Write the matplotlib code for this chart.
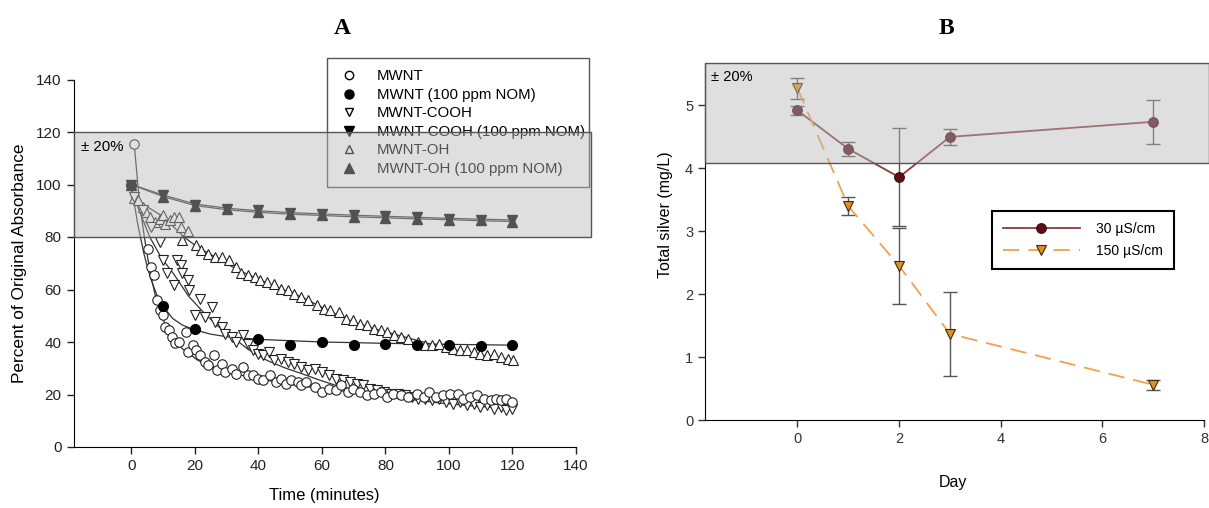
import matplotlib
matplotlib.use("Agg")
import matplotlib.pyplot as plt
from matplotlib.patches import Rectangle
from matplotlib.lines import Line2D

plt.rcParams['font.family'] = ['Liberation Sans', 'DejaVu Sans']

# ---- panel A data (time in minutes, percent of original absorbance) ----
mwnt_t = [0.9, 5.2, 6.3, 7.1, 8.1, 9.0, 10.1, 10.6, 12.0, 12.8, 13.7, 15.0, 17.1, 17.9, 19.3,
          20.4, 21.5, 23.1, 24.2, 26.0, 26.9, 28.5, 29.6, 31.8, 32.9, 35.1, 36.7, 38.3, 39.9,
          41.6, 43.7, 45.4, 47.0, 48.6, 50.2, 52.4, 53.5, 55.1, 57.8, 60.0, 62.2, 64.4, 66.0,
          68.2, 69.8, 71.9, 74.1, 76.3, 78.5, 80.6, 82.3, 85.0, 87.2, 89.9, 92.0, 93.7, 95.8,
          98.0, 100.2, 102.9, 104.5, 106.7, 108.9, 111.0, 113.2, 114.8, 116.5, 118.1, 119.7]
mwnt_v = [115.6, 75.6, 68.6, 65.4, 55.9, 52.1, 50.2, 45.7, 44.5, 41.9, 39.6, 40.0, 43.8, 36.2, 38.7,
          36.8, 34.9, 32.4, 31.1, 34.9, 29.2, 31.8, 28.6, 29.9, 28.0, 30.5, 27.3, 27.3, 26.0,
          25.4, 27.3, 24.8, 26.0, 24.1, 25.4, 24.8, 23.5, 24.8, 22.9, 21.0, 22.2, 21.6, 23.5,
          21.0, 22.2, 21.0, 19.7, 20.3, 21.0, 19.1, 20.3, 19.7, 19.1, 20.3, 19.1, 21.0, 19.1,
          19.7, 20.3, 20.3, 18.4, 19.1, 19.7, 18.4, 17.8, 18.4, 17.8, 18.4, 17.2]
mwnt_fit_t = [0.9, 2.5, 4.1, 6.0, 7.9, 10.0, 12.3, 16.0, 21.0, 26.0, 31.8, 42.7, 53.0, 64.4, 75.0, 86.0, 100.0, 110.0, 119.7]
mwnt_fit_v = [115.6, 94.0, 80.0, 66.0, 55.9, 48.5, 43.0, 37.5, 33.0, 30.3, 28.0, 25.4, 23.3, 21.6, 20.2, 19.1, 17.9, 17.2, 16.6]

nom_t = [0, 10, 20, 40, 50, 60, 70, 80, 90, 100, 110, 120]
nom_v = [100.0, 53.6, 45.1, 41.3, 38.8, 40.0, 38.8, 39.1, 39.0, 38.8, 38.4, 38.8]
nom_fit_t = [0, 2, 4, 6, 8, 10, 13, 16, 20, 25, 30, 40, 60, 80, 100, 120]
nom_fit_v = [100.0, 85.0, 73.5, 64.5, 58.0, 53.6, 49.0, 46.5, 44.6, 43.0, 42.0, 41.0, 40.0, 39.5, 39.1, 38.8]

cooh_t = [0.9, 3.6, 6.3, 9.0, 10.1, 11.2, 13.3, 14.4, 15.5, 16.1, 17.7, 18.2, 20.2, 21.5, 23.1,
          25.3, 26.4, 28.5, 29.6, 31.8, 32.9, 35.1, 36.7, 38.3, 39.9, 41.6, 43.2, 44.8, 47.0,
          49.2, 51.3, 53.5, 55.7, 57.8, 60.0, 62.2, 64.4, 66.5, 68.7, 70.9, 73.0, 75.2, 77.4,
          79.6, 81.7, 83.9, 86.1, 88.3, 90.4, 92.6, 94.7, 96.9, 99.1, 101.3, 103.4, 105.6,
          107.8, 109.9, 112.1, 114.3, 116.5, 118.1, 119.7]
cooh_v = [95.3, 90.2, 83.9, 78.1, 71.1, 66.1, 61.6, 71.4, 69.2, 66.1, 63.5, 59.7, 50.2, 56.5, 49.5,
          53.4, 47.6, 45.7, 43.2, 41.9, 40.0, 42.6, 39.4, 36.8, 35.6, 34.9, 36.2, 33.0, 33.7,
          32.4, 31.8, 30.5, 29.2, 29.9, 28.6, 27.3, 26.0, 25.4, 24.8, 24.1, 23.5, 22.2, 21.6,
          21.0, 20.3, 20.3, 19.7, 19.1, 18.4, 18.4, 17.8, 18.4, 17.2, 16.5, 17.2, 15.9,
          16.5, 15.2, 15.9, 14.6, 15.2, 14.0, 14.6]
cooh_fit_t = [0, 3, 5.8, 9.5, 13.3, 18.0, 23.1, 27.5, 31.8, 37.0, 42.7, 48.0, 53.5, 59.0, 64.4, 70.0, 75.2, 86.1, 96.9, 108.0, 119.7]
cooh_fit_v = [97.8, 88.5, 80.0, 72.0, 66.0, 57.5, 50.8, 45.8, 41.9, 37.0, 33.0, 30.3, 28.0, 25.6, 23.5, 21.8, 20.3, 18.4, 16.8, 15.6, 14.6]

coohnom_t = [0, 10, 20, 30, 40, 50, 60, 70, 80, 90, 100, 110, 120]
coohnom_v = [100.0, 95.9, 92.1, 90.8, 90.2, 89.2, 88.9, 88.3, 87.9, 87.7, 87.0, 86.6, 86.4]
coohnom_fit_v = [100.0, 96.0, 92.6, 91.0, 90.0, 89.3, 88.8, 88.3, 87.9, 87.5, 87.1, 86.8, 86.5]

oh_t = [0.9, 2.0, 3.6, 4.7, 6.0, 7.4, 9.0, 10.1, 10.6, 12.3, 13.3, 15.0, 15.5, 16.1, 17.9, 20.4,
        22.0, 24.2, 26.4, 28.5, 30.7, 32.9, 34.5, 36.7, 38.9, 40.5, 42.7, 44.8, 47.0, 49.2,
        51.3, 53.5, 55.7, 58.4, 60.6, 62.7, 65.4, 67.6, 69.8, 71.9, 74.1, 76.3, 78.5, 80.6,
        82.8, 85.0, 87.2, 90.4, 92.6, 94.7, 96.9, 99.1, 101.3, 103.4, 105.6, 107.8, 109.9,
        112.1, 114.3, 116.5, 118.6, 120.2]
oh_v = [95.0, 94.0, 91.5, 89.6, 87.7, 85.8, 87.0, 88.3, 85.1, 86.4, 87.7, 87.7, 83.9, 78.8, 82.3, 76.9,
        75.0, 73.7, 72.4, 72.4, 71.1, 68.6, 66.1, 65.4, 64.8, 63.5, 62.9, 62.2, 60.3, 59.7,
        58.4, 57.2, 55.9, 54.0, 52.7, 52.1, 51.5, 48.9, 48.3, 47.0, 46.4, 45.1, 44.5, 43.8,
        42.6, 41.9, 41.3, 40.0, 38.8, 38.8, 39.4, 38.1, 37.5, 36.8, 36.8, 36.2, 35.6,
        34.9, 35.6, 34.3, 33.7, 33.0]
oh_fit_t = [0, 5, 10.1, 16.6, 21.0, 26.4, 32.0, 37.2, 45.0, 53.5, 62.0, 69.8, 78.0, 86.1, 94.0, 102.4, 111.0, 120.2]
oh_fit_v = [95.3, 91.5, 87.7, 80.0, 76.0, 72.4, 68.5, 65.4, 61.3, 57.2, 52.0, 47.6, 44.5, 41.9, 39.3, 36.8, 34.8, 33.0]

ohnom_t = [0, 10, 20, 30, 40, 50, 60, 70, 80, 90, 100, 110, 120]
ohnom_v = [100.0, 95.3, 91.7, 90.5, 89.6, 88.7, 88.3, 87.7, 87.3, 87.0, 86.6, 86.4, 85.8]
ohnom_fit_v = [100.0, 95.4, 92.0, 90.4, 89.4, 88.7, 88.2, 87.7, 87.3, 86.9, 86.6, 86.2, 85.9]

# ---- panel B data (day, total silver mg/L) ----
days = [0, 1, 2, 3, 7]
ag30 = [4.92, 4.31, 3.86, 4.50, 4.74]
ag30_err = [0.07, 0.11, 0.78, 0.13, 0.35]
ag150 = [5.27, 3.40, 2.45, 1.37, 0.56]
ag150_err = [0.16, 0.14, 0.60, 0.67, 0.08]

W, H = 1209, 508
fig = plt.figure(figsize=(W / 100, H / 100), dpi=100)

# ================= panel A =================
ax = fig.add_axes([73.5 / W, 1 - 447 / H, (576 - 73.5) / W, (447 - 79.5) / H])
ax.set_xlim(-18.2, 140)
ax.set_ylim(0, 140)
for s in ['top', 'right']:
    ax.spines[s].set_visible(False)
ax.set_xticks(range(0, 141, 20))
ax.set_yticks(range(0, 141, 20))
ax.tick_params(labelsize=11, length=5, width=1, direction='out', colors='#222')

lw_fit = 0.9
ax.plot(mwnt_fit_t, mwnt_fit_v, color='#333', lw=lw_fit, zorder=2)
ax.plot(nom_fit_t, nom_fit_v, color='#333', lw=lw_fit, zorder=2)
ax.plot(cooh_fit_t, cooh_fit_v, color='#333', lw=lw_fit, zorder=2)
ax.plot(oh_fit_t, oh_fit_v, color='#333', lw=lw_fit, zorder=2)
ax.plot(coohnom_t, coohnom_fit_v, color='#333', lw=lw_fit, zorder=2)
ax.plot(ohnom_t, ohnom_fit_v, color='#333', lw=lw_fit, zorder=2)

ms = 6.8
ax.plot(oh_t, oh_v, '^', ms=ms, mfc='white', mec='#222', mew=0.8, ls='none', zorder=3)
ax.plot(cooh_t, cooh_v, 'v', ms=ms, mfc='white', mec='#222', mew=0.8, ls='none', zorder=3)
ax.plot(mwnt_t, mwnt_v, 'o', ms=ms, mfc='white', mec='#222', mew=0.8, ls='none', zorder=3)
ax.plot(nom_t, nom_v, 'o', ms=7, mfc='black', mec='black', ls='none', zorder=4)
ax.plot(coohnom_t, coohnom_v, 'v', ms=7, mfc='black', mec='black', ls='none', zorder=4)
ax.plot(ohnom_t, ohnom_v, '^', ms=7, mfc='black', mec='black', ls='none', zorder=4)

handles = [
    Line2D([], [], marker='o', ls='none', ms=6, mfc='white', mec='black'),
    Line2D([], [], marker='o', ls='none', ms=6.5, mfc='black', mec='black'),
    Line2D([], [], marker='v', ls='none', ms=6, mfc='white', mec='black'),
    Line2D([], [], marker='v', ls='none', ms=6.5, mfc='black', mec='black'),
    Line2D([], [], marker='^', ls='none', ms=6, mfc='white', mec='black'),
    Line2D([], [], marker='^', ls='none', ms=6.5, mfc='black', mec='black'),
]
labels = ['MWNT', 'MWNT (100 ppm NOM)', 'MWNT-COOH', 'MWNT-COOH (100 ppm NOM)',
          'MWNT-OH', 'MWNT-OH (100 ppm NOM)']
leg = ax.legend(handles, labels, loc='upper left', mode='expand',
                bbox_to_anchor=(327 / W, 1 - 188 / H, 262 / W, 130 / H),
                bbox_transform=fig.transFigure, fontsize=10.8, frameon=True,
                fancybox=False, edgecolor='#555', framealpha=1, borderpad=0.75,
                labelspacing=0.3, handletextpad=1.2, handlelength=1.4, borderaxespad=0)
leg.get_frame().set_linewidth(1.0)
leg.set_zorder(5)

ax.add_patch(Rectangle((-18.2, 80), 144.7 + 18.2, 40, facecolor='#b8b8b8', alpha=0.45,
                       edgecolor='none', clip_on=False, zorder=8))
ax.add_patch(Rectangle((-18.2, 80), 144.7 + 18.2, 40, facecolor='none',
                       edgecolor='#555', lw=1.0, clip_on=False, zorder=9))
ax.text(-15.7, 114.3, '± 20%', fontsize=10.8, va='center', ha='left', zorder=10)

ax.set_xlabel('Time (minutes)', fontsize=12)
ax.set_ylabel('Percent of Original Absorbance', fontsize=12.4)
ax.xaxis.set_label_coords(0.5, -0.112)
ax.yaxis.set_label_coords(-0.0925, 0.5)

fig.text(342 / W, 1 - 28 / H, 'A', family='Liberation Serif', weight='bold',
         fontsize=17, ha='center', va='center')

# ================= panel B =================
bx = fig.add_axes([705 / W, 1 - 420 / H, (1204 - 705) / W, (420 - 63.3) / H])
bx.set_xlim(-1.82, 8)
bx.set_ylim(0, 5.67)
for s in ['top', 'right']:
    bx.spines[s].set_visible(False)
bx.set_xticks([0, 2, 4, 6, 8])
bx.set_yticks([0, 1, 2, 3, 4, 5])
bx.tick_params(labelsize=10.5, length=5, width=1, direction='out', colors='#333')

bx.errorbar(days, ag30, yerr=ag30_err, fmt='none', ecolor='#555', elinewidth=1,
            capsize=5, capthick=1, zorder=2)
bx.errorbar(days, ag150, yerr=ag150_err, fmt='none', ecolor='#555', elinewidth=1,
            capsize=5, capthick=1, zorder=2)
l30, = bx.plot(days, ag30, '-o', color='#8a3a3a', lw=1.3, ms=7, mfc='#5e0c18',
               mec='#3a1010', mew=0.8, zorder=3)
l150, = bx.plot(days, ag150, ls=(0, (9, 5)), marker='v', color='#f0a050', lw=1.3,
                ms=7.5, mfc='#e0901e', mec='#3a2a10', mew=0.8, zorder=3)

lg2 = bx.legend([l30, l150], ['30 µS/cm', '150 µS/cm'], loc='upper left',
                bbox_to_anchor=(992 / W, 1 - 211 / H), bbox_transform=fig.transFigure,
                fontsize=10, frameon=True, fancybox=False, edgecolor='black',
                framealpha=1, handlelength=5.5, handletextpad=1.2, borderpad=0.8,
                labelspacing=0.55, borderaxespad=0)
lg2.get_frame().set_linewidth(1.5)

bx.add_patch(Rectangle((-1.82, 4.08), 8.1 + 1.82, 5.67 - 4.08, facecolor='#b8b8b8',
                       alpha=0.45, edgecolor='none', clip_on=False, zorder=8))
bx.add_patch(Rectangle((-1.82, 4.08), 8.1 + 1.82, 5.67 - 4.08, facecolor='none',
                       edgecolor='#555', lw=1.0, clip_on=False, zorder=9))
bx.text(-1.7, 5.45, '± 20%', fontsize=10.5, va='center', ha='left', zorder=10)

bx.set_xlabel('Day', fontsize=11.5)
bx.set_ylabel('Total silver (mg/L)', fontsize=11.5)
bx.xaxis.set_label_coords(0.497, -0.154)
bx.yaxis.set_label_coords(-0.064, 0.575)

fig.text(946 / W, 1 - 28 / H, 'B', family='Liberation Serif', weight='bold',
         fontsize=17, ha='center', va='center')

fig.savefig('out.png', dpi=100)
